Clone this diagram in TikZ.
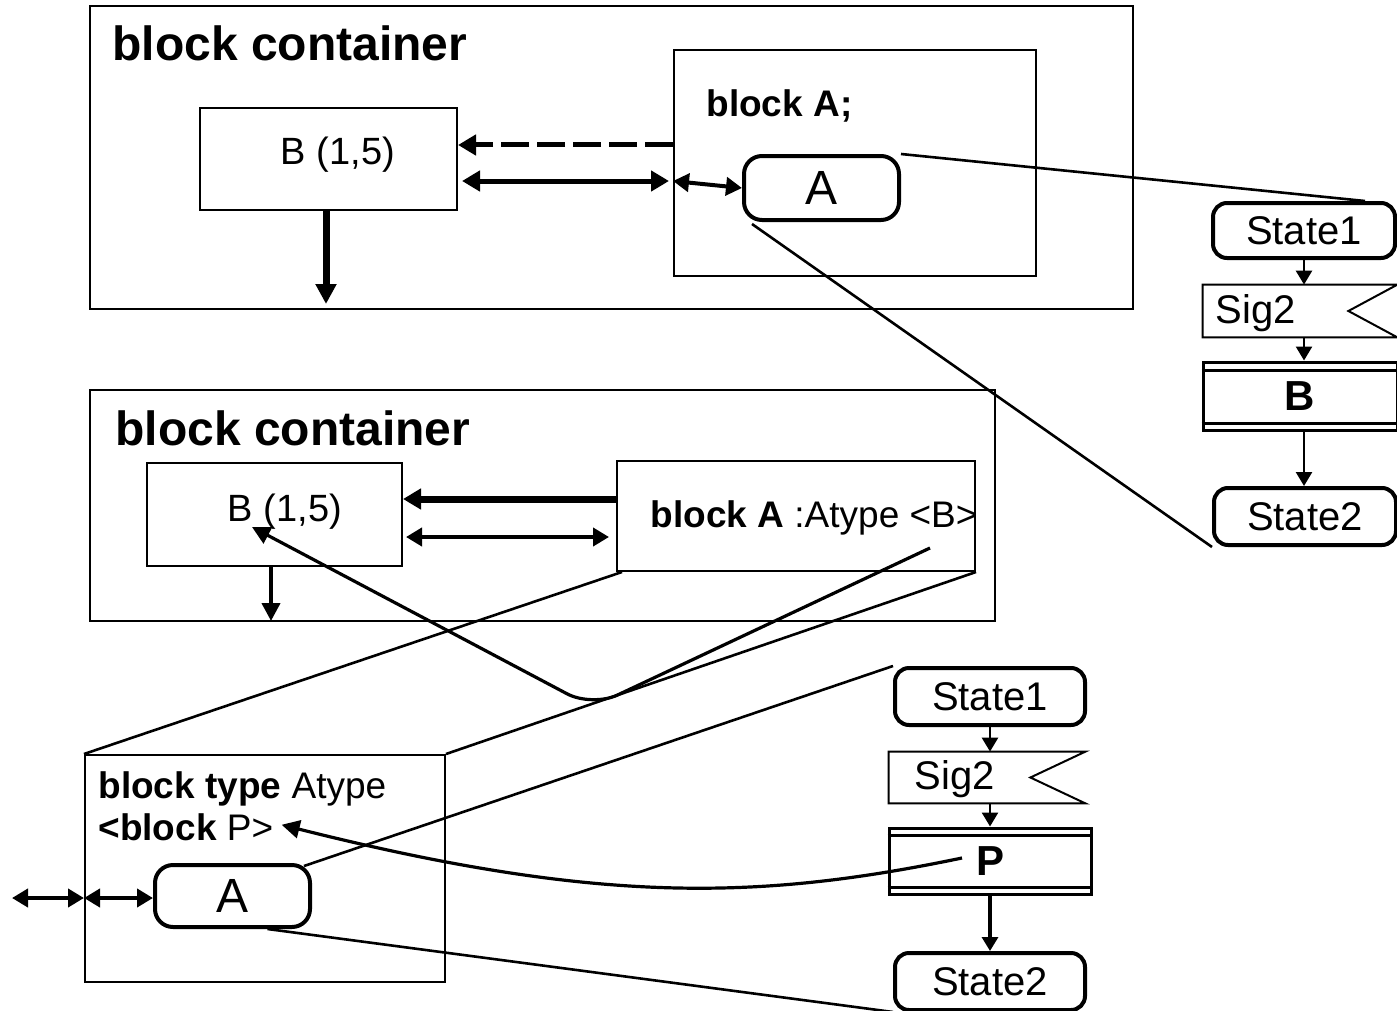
\documentclass[tikz,border=0pt]{standalone}
\usepackage{fontspec}
\setmainfont{Liberation Sans}
\usetikzlibrary{arrows.meta,calc}

\begin{document}
\begin{tikzpicture}[x=0.5pt, y=-0.5pt,
  wh/.style 2 args={minimum width=#1*0.5pt, minimum height=#2*0.5pt},
  box/.style={draw, line width=1pt, inner sep=0pt},
  thinbox/.style={draw, line width=1pt},
  title/.style={inner sep=0pt, font=\fontsize{24}{28}\selectfont\bfseries},
  txtb/.style={inner sep=0pt, font=\fontsize{18.5}{22}\selectfont},
  txtm/.style={inner sep=0pt, font=\fontsize{19}{22}\selectfont},
  txts/.style={inner sep=0pt, font=\fontsize{20}{24}\selectfont},
  state/.style={draw, line width=2pt, rounded corners=7pt, inner sep=0pt, font=\fontsize{20}{24}\selectfont},
  proc/.style={draw, line width=1.5pt, inner sep=0pt, font=\fontsize{21}{24}\selectfont\bfseries},
  rbox/.style={draw, line width=2pt, rounded corners=9pt, inner sep=0pt, font=\fontsize{24}{28}\selectfont},
  link/.style={line width=1.3pt},
  dashedarrow/.style={-{Triangle[length=9pt,width=10pt]}, line width=2.5pt, dash pattern=on 14pt off 4pt},
  dblarrow/.style={{Triangle[length=9pt,width=10pt]}-{Triangle[length=9pt,width=10pt]}, line width=2.5pt},
  dblarrowm/.style={{Triangle[length=8pt,width=9pt]}-{Triangle[length=8pt,width=9pt]}, line width=2pt},
  smalldbl/.style={{Triangle[length=8pt,width=9pt]}-{Triangle[length=8pt,width=9pt]}, line width=2pt},
  downarrow/.style={-{Triangle[length=10pt,width=10pt]}, line width=3.5pt},
  downarrowm/.style={-{Triangle[length=9pt,width=9pt]}, line width=2pt},
  thickarrow/.style={-{Triangle[length=9pt,width=10pt]}, line width=3.5pt},
  flowarrow/.style={-{Triangle[length=7pt,width=8pt]}, line width=1.3pt},
  curvearrow/.style={-{Triangle[length=9pt,width=9pt]}, line width=1.6pt}
]
\fill[white] (0,0) rectangle (1397,1011);
\useasboundingbox (0,0) rectangle (1397,1011);

% ---------- upper block container ----------
\node[box, wh={1043}{303}] (cont1) at (611.5,157.5) {};
\node[title, anchor=base west] (cont1t) at (112,61) {block container};
\node[box, wh={257}{102}] (B1) at (328.5,159) {};
\node[txtm] (B1t) at (338,155) {B (1,5)};
\node[box, wh={362}{226}] (blkA) at (855,163) {};
\node[txtb, anchor=base west] (blkAt) at (706,117) {\textbf{block A;}};
\node[rbox, wh={155}{64}] (A1) at (821.5,188) {A};

\draw[dashedarrow] ($(blkA.west)+(0,-18)$) -- ($(B1.east)+(0,-14)$);
\draw[dblarrow] ($(B1.east)+(4,22)$) -- ($(blkA.west)+(-4,18)$);
\draw[smalldbl] ($(blkA.west)+(0,18)$) -- (A1.west);
\draw[downarrow] ($(B1.south)+(-2.5,0)$) -- ($(B1.south |- cont1.south)+(-2.5,-6)$);

% ---------- state chart of A (upper) ----------
\node[state, wh={182}{55}] (S1a) at (1304,230.5) {State1};
\node[inner sep=0pt, wh={194}{52}] (Sig2a) at (1300,311) {};
\draw[thinbox] (Sig2a.north west) -- (Sig2a.north east) -- ($(Sig2a.east)+(-49,0)$)
  -- (Sig2a.south east) -- (Sig2a.south west) -- cycle;
\node[txts] (Sig2at) at (1256,313) {Sig2};
\node[proc, wh={194}{68}] (Ba) at (1300,396) {B};
\draw[line width=1.2pt] ($(Ba.north west)+(0,10)$) -- ($(Ba.north east)+(0,10)$);
\draw[line width=1.2pt] ($(Ba.south west)+(0,-8)$) -- ($(Ba.south east)+(0,-8)$);
\node[state, wh={182}{57}] (S2a) at (1305,516.5) {State2};

\draw[flowarrow] (S1a.south) -- (S1a.south |- Sig2a.north);
\draw[flowarrow] (S1a.south |- Sig2a.south) -- (S1a.south |- Ba.north);
\draw[flowarrow] (S1a.south |- Ba.south) -- (S1a.south |- S2a.north);

\draw[link] (A1.north east) -- ($(S1a.north east)+(-32,0)$);
\draw[link] ($(A1.south west)+(10,2)$) -- (S2a.south west);

% ---------- lower block container ----------
\node[box, wh={905}{231}] (cont2) at (542.5,505.5) {};
\node[title, anchor=base west] (cont2t) at (115,445) {block container};
\node[box, wh={255}{103}] (B2) at (274.5,514.5) {};
\node[txtm] (B2t) at (285,512) {B (1,5)};
\node[box, wh={358}{110}] (blkA2) at (796,516) {};
\node[txtb] (blkA2t) at (814,518) {\textbf{block A} :Atype <B>};

\draw[thickarrow] ($(blkA2.west)+(0,-17)$) -- ($(B2.east)+(0,-15.5)$);
\draw[dblarrowm] ($(B2.east)+(3,22.5)$) -- ($(blkA2.west)+(-7,21)$);
\draw[downarrowm] ($(B2.south)+(-3.5,0)$) -- ($(B2.south |- cont2.south)+(-3.5,-1)$);

% ---------- block type Atype ----------
\node[box, wh={360}{227}] (AT) at (265,868.5) {};
\node[txtb, anchor=base west] (ATt) at (98,798) {\textbf{block type} Atype};
\node[txtb, anchor=base west] (typeP) at (98,840) {\textbf{<block} P>};
\node[rbox, wh={155}{62}] (A3) at (232.5,896) {A};
\coordinate (ext) at (12,898);
\coordinate (port) at (AT.west |- ext);
\draw[smalldbl] (ext) -- (port);
\draw[smalldbl] (port) -- (A3.west |- ext);

% ---------- state chart of A (lower) ----------
\node[state, wh={190}{57}] (S1b) at (990,696.5) {State1};
\node[inner sep=0pt, wh={196}{51}] (Sig2b) at (987,777.5) {};
\draw[thinbox] (Sig2b.north west) -- (Sig2b.north east) -- ($(Sig2b.east)+(-55,0)$)
  -- (Sig2b.south east) -- (Sig2b.south west) -- cycle;
\node[txts] (Sig2bt) at (955,779) {Sig2};
\node[proc, wh={202}{66}] (Pb) at (990,861) {P};
\draw[line width=1.2pt] ($(Pb.north west)+(0,9)$) -- ($(Pb.north east)+(0,9)$);
\draw[line width=1.2pt] ($(Pb.south west)+(0,-8)$) -- ($(Pb.south east)+(0,-8)$);
\node[state, wh={190}{57}] (S2b) at (990,981.5) {State2};

\draw[flowarrow] (S1b.south) -- (S1b.south |- Sig2b.north);
\draw[flowarrow] (S1b.south |- Sig2b.south) -- (S1b.south |- Pb.north);
\draw[flowarrow, line width=1.6pt] (S1b.south |- Pb.south) -- (S2b.north);

\draw[link] ($(A3.north east)+(-8,3)$) -- (S1b.north west);
\draw[link] ($(A3.south)+(35,0)$) -- (S2b.south west);

% ---------- projection from block A to its type ----------
\draw[link] ($(blkA2.south west)+(6,0)$) -- (AT.north west);
\draw[link] (blkA2.south east) -- (AT.north east);

% ---------- actual parameter binding ----------
\coordinate (bend) at (592,707);
\draw[curvearrow, rounded corners=14pt] ($(blkA2.center)+(134,32)$) -- (bend) -- ($(B2t.center)+(-33,15)$);
\draw[curvearrow] ($(Pb.center)+(-28,-3)$) .. controls (760,900) and (600,905) .. ($(typeP.east)+(8,-2)$);
\end{tikzpicture}
\end{document}
